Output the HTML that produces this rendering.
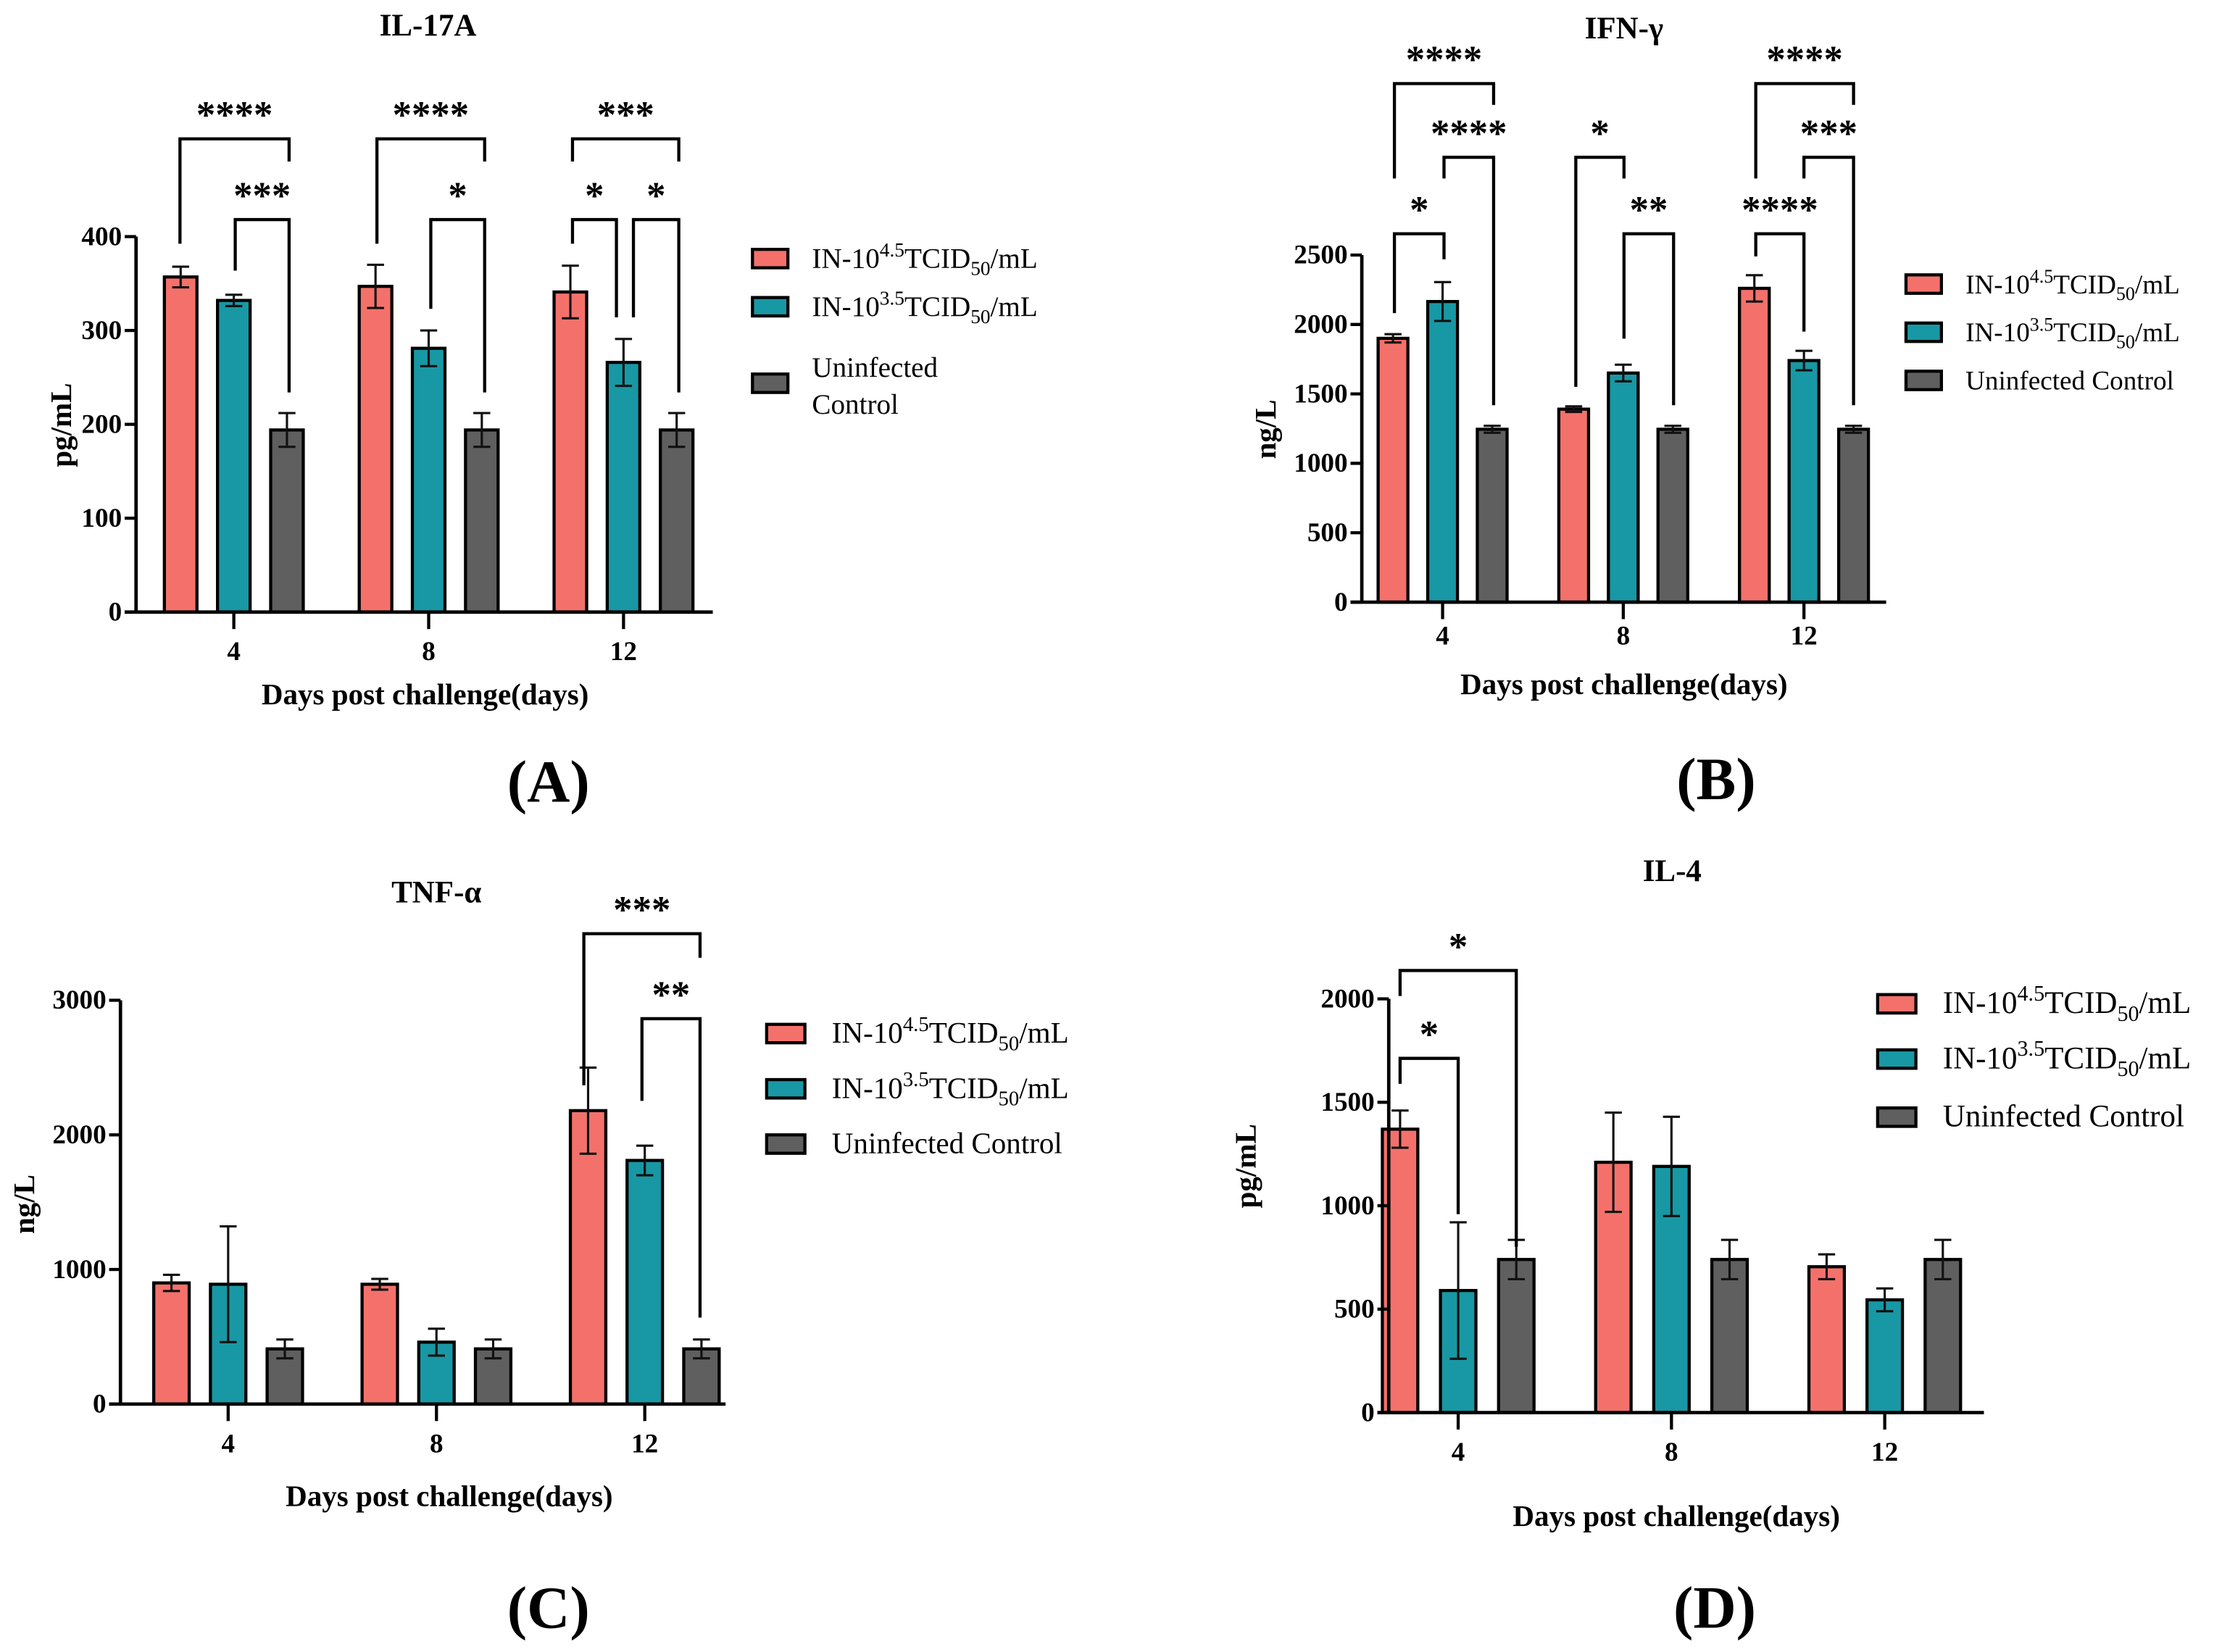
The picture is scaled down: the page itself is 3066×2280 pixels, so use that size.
<!DOCTYPE html>
<html><head><meta charset="utf-8">
<style>
html,body{margin:0;padding:0;background:#fff;}
svg{display:block;}
text{font-family:"Liberation Serif",serif;fill:#000;}
.b{font-weight:bold;}
</style></head>
<body>
<svg id="fig" width="3066" height="2280" viewBox="0 0 1568 1166" preserveAspectRatio="none" xmlns="http://www.w3.org/2000/svg"></svg>
<script>
// ---- data ----
const categories = ["4","8","12"];
const seriesNames = ["IN-10^4.5TCID50/mL","IN-10^3.5TCID50/mL","Uninfected Control"];
// Panel A IL-17A (pg/mL)
const aRed = [357,347,341], aTeal = [332,281,266], aGray = [194,194,194];
const aRedErr = [11,23,28], aTealErr = [6,19,25], aGrayErr = [18,18,18];
const aTicks = [0,100,200,300,400];
// Panel B IFN-γ (ng/L)
const bRed = [1900,1390,2260], bTeal = [2165,1650,1740], bGray = [1245,1245,1245];
const bRedErr = [30,20,95], bTealErr = [140,60,70], bGrayErr = [25,25,25];
const bTicks = [0,500,1000,1500,2000,2500];
// Panel C TNF-α (ng/L)
const cRed = [900,890,2180], cTeal = [890,460,1810], cGray = [410,410,410];
const cRedErr = [60,40,320], cTealErr = [430,100,110], cGrayErr = [70,70,70];
const cTicks = [0,1000,2000,3000];
// Panel D IL-4 (pg/mL)
const dRed = [1370,1210,705], dTeal = [590,1190,545], dGray = [740,740,740];
const dRedErr = [90,240,60], dTealErr = [330,240,55], dGrayErr = [95,95,95];
const dTicks = [0,500,1000,1500,2000];

const NS="http://www.w3.org/2000/svg";
const svg=document.getElementById('fig');
const colors=["#F4716B","#1898A4","#5F5F5F"];
function mk(tag,attrs,parent){const e=document.createElementNS(NS,tag);for(const k in attrs)e.setAttribute(k,attrs[k]);(parent||svg).appendChild(e);return e;}
function txt(parent,x,y,s,size,bold,anchor){const t=mk('text',{x:x,y:y,'font-size':size,'text-anchor':anchor||'middle'},parent);if(bold)t.setAttribute('class','b');t.textContent=s;return t;}

function panel(cfg){
  const g=mk('g',{});
  
  
  const y=v=>cfg.y0-(v/cfg.max)*(cfg.y0-cfg.yTop);
  const xc=i=>cfg.x0+i*cfg.gstep;
  const tt=txt(g,cfg.titleX,cfg.titleY,cfg.title,22,true);
  
  
  cfg.series.forEach((vals,s)=>{
    vals.forEach((v,i)=>{
      const cx=xc(i)+(s-1)*cfg.bstep;
      const r=mk('rect',{x:cx-cfg.bw/2,y:y(v),width:cfg.bw,height:cfg.y0-y(v),fill:colors[s],stroke:'#000','stroke-width':2.2},g);
      
      
      const e=cfg.errs[s][i];
      const eg=mk('path',{d:`M${cx},${y(v+e)}V${y(v-e)}M${cx-6},${y(v+e)}h12M${cx-6},${y(v-e)}h12`,stroke:'#111','stroke-width':1.6,fill:'none'},g);
      
      
    });
  });
  const ax=mk('path',{d:`M${cfg.axX},${cfg.yTop}V${cfg.y0}M${cfg.axX-8},${cfg.y0}H${cfg.axEnd}`,stroke:'#000','stroke-width':2.4,fill:'none'},g);
  
  
  cfg.ticks.forEach(t=>{
    mk('line',{x1:cfg.axX-8,x2:cfg.axX,y1:y(t),y2:y(t),stroke:'#000','stroke-width':2.2},g);
    const l=txt(g,cfg.axX-10,y(t)+6,String(t),19,true,'end');
    
    
  });
  categories.forEach((c,i)=>{
    mk('line',{x1:xc(i),x2:xc(i),y1:cfg.y0,y2:cfg.y0+12,stroke:'#000','stroke-width':2.2},g);
    const l=txt(g,xc(i),cfg.xTickY,c,19,true);
    
    
  });
  const xt=txt(g,cfg.xTitleX,cfg.xTitleY,'Days post challenge(days)',21,true);
  
  
  const yt=txt(g,0,0,cfg.ylab,21,true);
  yt.setAttribute('transform',`translate(${cfg.ylabX},${cfg.ylabY}) rotate(-90)`);
  
  
  const pl=txt(g,cfg.labX,cfg.labY,cfg.lab,42,true);
  
  
  cfg.brackets.forEach(b=>{
    const p=mk('path',{d:`M${b[0]},${b[3]}V${b[2]}H${b[1]}V${b[4]}`,stroke:'#000','stroke-width':2.2,fill:'none'},g);
    
    
    const s=txt(g,(b[0]+b[1])/2,b[2]-8,b[5],27,true);
    
    
  });
  cfg.legY.forEach((ly,k)=>{
    const lg=mk('g',{},g);
    
    
    mk('rect',{x:cfg.legX,y:ly-6,width:cfg.legW,height:13,fill:colors[k],stroke:'#000','stroke-width':2.2},lg);
    const tx=cfg.legX+cfg.legW+cfg.legGap;
    const fs=cfg.legFs;
    if(k<2){
      const t=mk('text',{x:tx,y:ly+7,'font-size':fs,'text-anchor':'start'},lg);
      t.innerHTML=`IN-10<tspan dy="${-fs*0.4}" font-size="${fs*0.7}">${k==0?'4.5':'3.5'}</tspan><tspan dy="${fs*0.4}">TCID</tspan><tspan dy="${fs*0.25}" font-size="${fs*0.7}">50</tspan><tspan dy="${-fs*0.25}">/mL</tspan>`;
    } else if(cfg.splitCtrl){
      txt(lg,tx,ly-4,'Uninfected',fs,false,'start');
      txt(lg,tx,ly+22,'Control',fs,false,'start');
    } else {
      txt(lg,tx,ly+7,'Uninfected Control',fs,false,'start');
    }
  });
}

panel({name:'panel-a-il17a',title:'IL-17A',titleX:302,titleY:25,series:[aRed,aTeal,aGray],errs:[aRedErr,aTealErr,aGrayErr],
  ticks:aTicks,max:400,y0:432,yTop:167,axX:96,axEnd:503,x0:165,gstep:137.5,bstep:37.5,bw:23,
  xTickY:466,xTitleX:300,xTitleY:497,ylab:'pg/mL',ylabX:50,ylabY:300,lab:'(A)',labX:387,labY:566,
  brackets:[[127,204,98,172,114,'****'],[166,204,155,191,277,'***'],[266,342,98,172,114,'****'],[304,342,155,218,277,'*'],
    [404,479,98,114,114,'***'],[404,435,155,172,224,'*'],[447,479,155,224,277,'*']],
  legX:531,legW:25,legGap:17,legFs:20,splitCtrl:true,legY:[182,216,270]});

panel({name:'panel-b-ifng',title:'IFN-γ',titleX:1146,titleY:27,series:[bRed,bTeal,bGray],errs:[bRedErr,bTealErr,bGrayErr],
  ticks:bTicks,max:2500,y0:425,yTop:180,axX:961,axEnd:1331,x0:1018,gstep:127.5,bstep:35,bw:21,
  xTickY:455,xTitleX:1146,xTitleY:490,ylab:'ng/L',ylabX:900,ylabY:303,lab:'(B)',labX:1211,labY:564,
  brackets:[[984,1054,59,126,74,'****'],[1019,1054,111,126,286,'****'],[984,1019,165,221,183,'*'],
    [1112,1146,111,273,126,'*'],[1146,1181,165,239,286,'**'],
    [1239,1308,59,126,74,'****'],[1273,1308,111,126,286,'***'],[1239,1273,165,181,234,'****']],
  legX:1345,legW:25,legGap:17,legFs:19,legY:[200,234,268]});

panel({name:'panel-c-tnfa',title:'TNF-α',titleX:308,titleY:637,series:[cRed,cTeal,cGray],errs:[cRedErr,cTealErr,cGrayErr],
  ticks:cTicks,max:3000,y0:991,yTop:706,axX:85,axEnd:512,x0:161,gstep:147,bstep:40,bw:25,
  xTickY:1025,xTitleX:317,xTitleY:1063,ylab:'ng/L',ylabX:24,ylabY:850,lab:'(C)',labX:387,labY:1149,
  brackets:[[412,494,659,766,676,'***'],[453,494,719,777,930,'**']],
  legX:541,legW:27,legGap:19,legFs:21,legY:[729,768,807]});

panel({name:'panel-d-il4',title:'IL-4',titleX:1180,titleY:622,series:[dRed,dTeal,dGray],errs:[dRedErr,dTealErr,dGrayErr],
  ticks:dTicks,max:2000,y0:997,yTop:705,axX:980,axEnd:1400,x0:1029,gstep:150.5,bstep:41,bw:25,
  xTickY:1031,xTitleX:1183,xTitleY:1077,ylab:'pg/mL',ylabX:886,ylabY:823,lab:'(D)',labX:1210,labY:1149,
  brackets:[[988,1070,685,703,880,'*'],[988,1029,747,765,857,'*']],
  legX:1325,legW:27,legGap:19,legFs:22,legY:[708,747,788]});
</script>
</body></html>
